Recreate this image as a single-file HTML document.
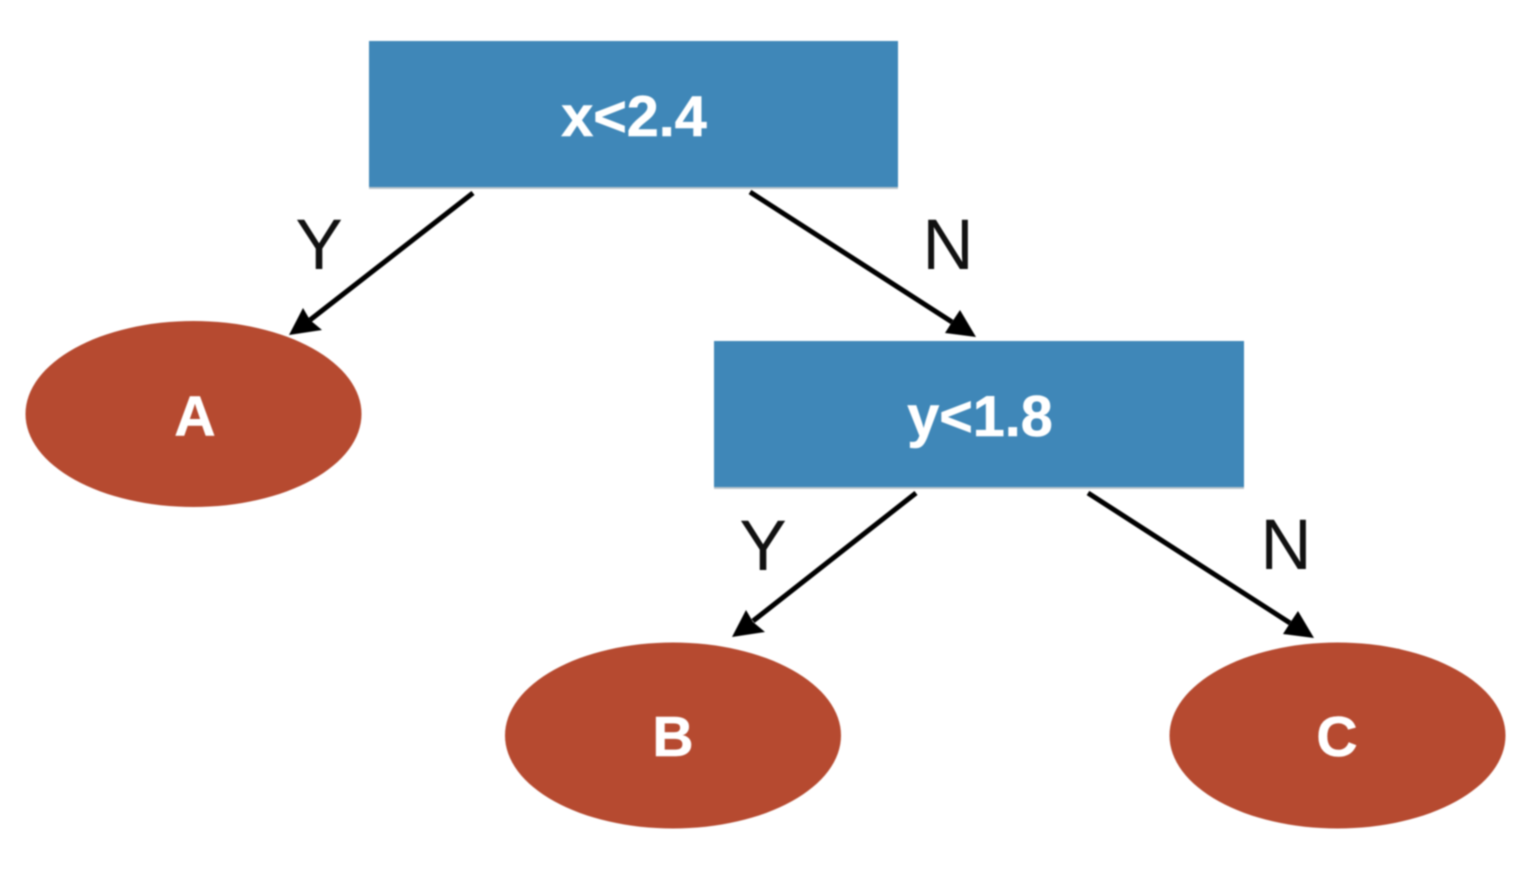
<!DOCTYPE html>
<html>
<head>
<meta charset="utf-8">
<style>
html,body{margin:0;padding:0;background:#fff;width:1518px;height:882px;overflow:hidden}
svg{display:block;filter:blur(0.9px)}
text{font-family:"Liberation Sans",Arial,sans-serif}
</style>
</head>
<body>
<svg width="1518" height="882" viewBox="0 0 1518 882" xmlns="http://www.w3.org/2000/svg">
<rect x="369" y="42" width="529" height="147" fill="#b9c4cc"/>
<rect x="714" y="342" width="530" height="147" fill="#b9c4cc"/>
<rect x="369" y="41" width="529" height="146" fill="#3f87b8"/>
<rect x="714" y="341" width="530" height="146" fill="#3f87b8"/>
<ellipse cx="193.500" cy="414" rx="168" ry="93" fill="#b64a30"/>
<ellipse cx="673" cy="735.500" rx="168" ry="93" fill="#b64a30"/>
<ellipse cx="1337.500" cy="735.500" rx="168" ry="93" fill="#b64a30"/>

<g stroke="#000" stroke-width="5" fill="none">
<line x1="473" y1="193" x2="310" y2="320"/>
<line x1="750" y1="192" x2="952" y2="322"/>
<line x1="916" y1="493" x2="753" y2="621"/>
<line x1="1088" y1="493" x2="1290" y2="623"/>
</g>
<g fill="#000">
<polygon points="289,335 303,308 310,320 322,330"/>
<polygon points="976,337 960,310 952,322 945,333"/>
<polygon points="732,637 746,610 753,622 765,632"/>
<polygon points="1314,638 1298,611 1290,623 1283,634"/>
</g>

<g fill="#fff" font-weight="700" text-anchor="middle" stroke="#fff" stroke-width="0.6">
<text x="634" y="136" font-size="57.5">x&lt;2.4</text>
<text x="980" y="436" font-size="57.5">y&lt;1.8</text>
<text x="195" y="435.500" font-size="57">A</text>
<text x="673" y="756" font-size="57">B</text>
<text x="1337" y="756" font-size="57">C</text>
</g>
<g fill="#111" text-anchor="middle" font-size="71">
<text x="319" y="269">Y</text>
<text x="948" y="269">N</text>
<text x="763" y="570">Y</text>
<text x="1286" y="569">N</text>
</g>
</svg>
</body>
</html>
